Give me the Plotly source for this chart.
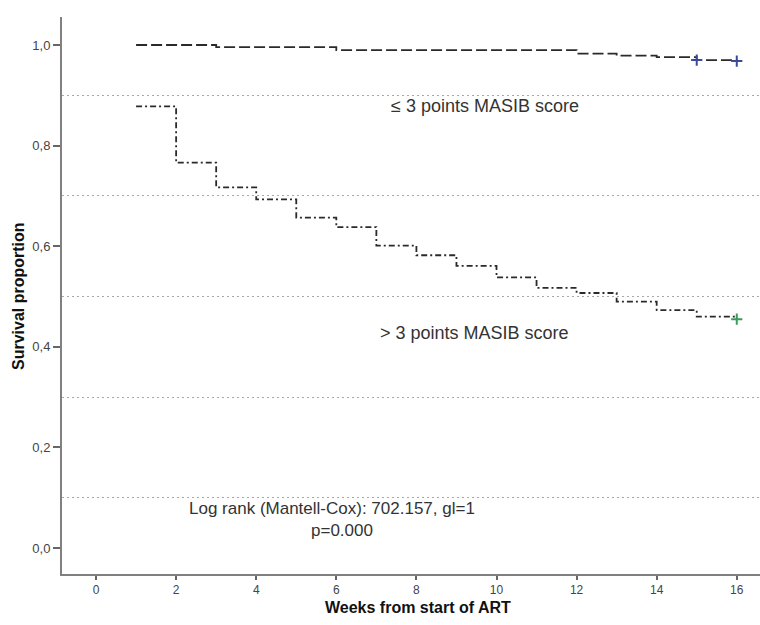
import plotly.graph_objects as go

# Kaplan-Meier step data (weeks, survival proportion)
low_times = [1, 3, 6, 12, 13, 14, 15, 16]
low_surv = [1.0, 0.996, 0.990, 0.983, 0.979, 0.976, 0.970, 0.968]
low_cens_t = [15, 16]
low_cens_s = [0.970, 0.968]

high_times = [1, 2, 3, 4, 5, 6, 7, 8, 9, 10, 11, 12, 13, 14, 15, 16]
high_surv = [0.878, 0.766, 0.717, 0.693, 0.657, 0.638, 0.601, 0.582, 0.561,
             0.538, 0.517, 0.507, 0.490, 0.473, 0.460, 0.455]
high_cens_t = [16]
high_cens_s = [0.455]

y_ticks = [0.0, 0.2, 0.4, 0.6, 0.8, 1.0]
y_ticklabels = ["0,0", "0,2", "0,4", "0,6", "0,8", "1,0"]
x_ticks = [0, 2, 4, 6, 8, 10, 12, 14, 16]

label_low = "≤ 3 points MASIB score"
label_high = "> 3 points MASIB score"
stat_line1 = "Log rank (Mantell-Cox): 702.157, gl=1"
stat_line2 = "p=0.000"
x_title = "Weeks from start of ART"
y_title = "Survival proportion"

W, H = 760, 625
ML, MR, MT, MB = 62, 0, 17, 51

fig = go.Figure()
fig.add_trace(go.Scatter(x=low_times, y=low_surv, mode="lines", line_shape="hv",
                         line=dict(color="#2a2a2a", width=1.8, dash="11px,4px"),
                         showlegend=False, hoverinfo="skip"))
fig.add_trace(go.Scatter(x=high_times, y=high_surv, mode="lines", line_shape="hv",
                         line=dict(color="#2a2a2a", width=1.8, dash="6px,3px,2px,3px"),
                         showlegend=False, hoverinfo="skip"))
fig.add_trace(go.Scatter(x=low_cens_t, y=low_cens_s, mode="markers",
                         marker=dict(symbol="cross-thin", size=8,
                                     line=dict(color="#3a4a9a", width=2)),
                         showlegend=False, hoverinfo="skip"))
fig.add_trace(go.Scatter(x=high_cens_t, y=high_cens_s, mode="markers",
                         marker=dict(symbol="cross-thin", size=8,
                                     line=dict(color="#3c9a5c", width=2)),
                         showlegend=False, hoverinfo="skip"))

txt = dict(family="Liberation Sans, Arial, sans-serif", size=18, color="#333333")
txt2 = dict(family="Liberation Sans, Arial, sans-serif", size=17, color="#333333")
fig.add_annotation(x=9.71, y=0.879, text=label_low, showarrow=False, font=txt)
fig.add_annotation(x=9.45, y=0.427, text=label_high, showarrow=False, font=txt)
fig.add_annotation(x=5.88, y=0.0785, text=stat_line1, showarrow=False, font=txt2)
fig.add_annotation(x=6.14, y=0.0345, text=stat_line2, showarrow=False, font=txt2)

pw = W - ML - MR
ph = H - MT - MB
title_font = dict(family="Liberation Sans, Arial, sans-serif", size=16, color="#111111")
fig.add_annotation(xref="paper", yref="paper", x=(418 - ML) / pw, y=-(607 - (H - MB)) / ph,
                   text="<b>" + x_title + "</b>", showarrow=False, font=title_font,
                   xanchor="center", yanchor="middle")
fig.add_annotation(xref="paper", yref="paper", x=(18 - ML) / pw, y=(H - MB - 296) / ph,
                   text="<b>" + y_title + "</b>", showarrow=False, font=title_font,
                   textangle=-90, xanchor="center", yanchor="middle")

fig.update_layout(
    width=W, height=H,
    margin=dict(l=ML, r=MR, t=MT, b=MB),
    plot_bgcolor="white", paper_bgcolor="white",
    font=dict(family="Liberation Sans, Arial, sans-serif", color="#444444"),
    xaxis=dict(range=[-0.85, 16.58], tickvals=x_ticks, ticks="outside", ticklen=4,
               tickwidth=1.5, tickcolor="#666666", showgrid=False, zeroline=False,
               showline=True, linecolor="#808080", linewidth=2, automargin=False,
               tickfont=dict(size=12, color="#444444")),
    yaxis=dict(range=[-0.0517, 1.0557], tickvals=y_ticks, ticktext=y_ticklabels,
               ticks="outside", ticklen=7, tickwidth=1.5, tickcolor="#666666",
               showgrid=False, zeroline=False, automargin=False,
               showline=True, linecolor="#808080", linewidth=2,
               tickfont=dict(size=13, color="#444444"),
               minor=dict(tick0=0.1, dtick=0.2, showgrid=True, gridcolor="#a8a8a8",
                          griddash="2px,3px", gridwidth=1, ticks="")),
)

fig.write_html("out.html", config={"displayModeBar": False},
               post_script="document.body.style.margin='0';document.body.style.overflow='hidden';")
